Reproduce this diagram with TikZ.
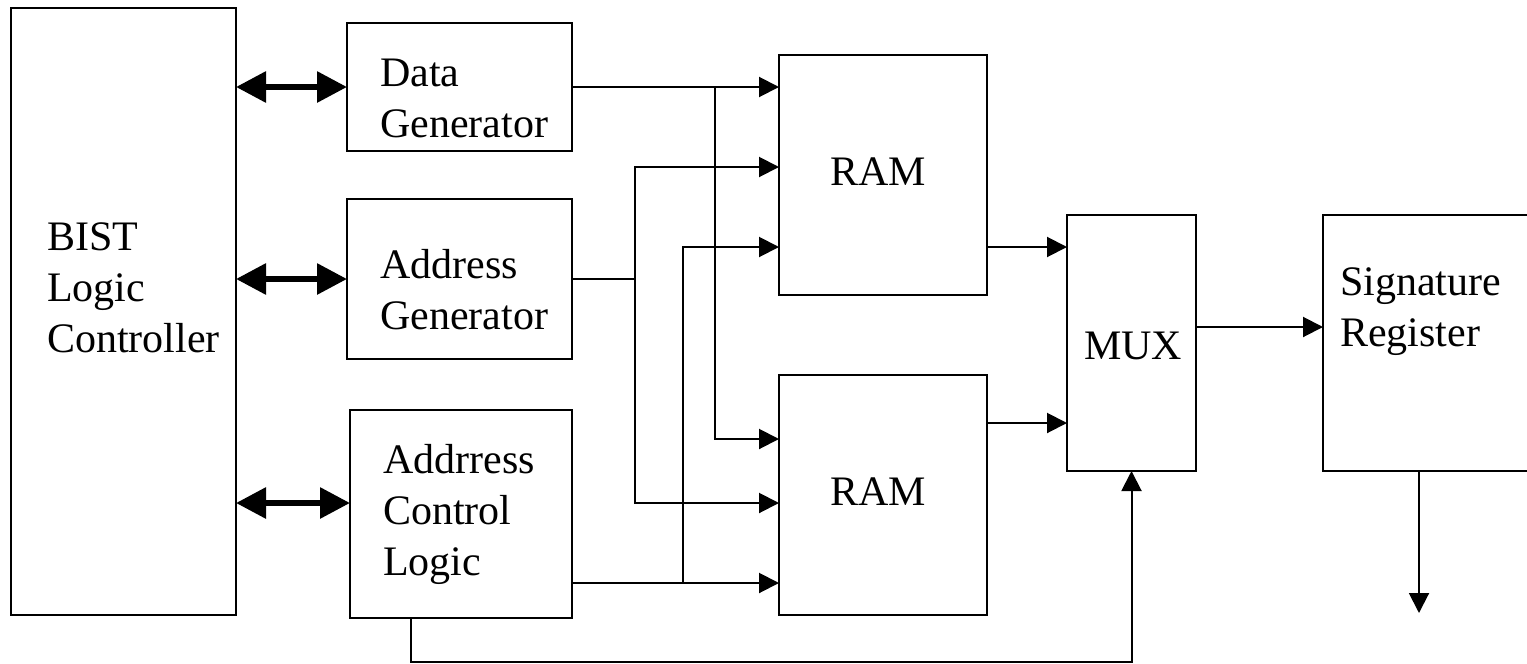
\documentclass[tikz,border=0pt]{standalone}
\usepackage{fontspec}
\setmainfont{Liberation Serif}
\usetikzlibrary{arrows.meta}
\newcommand{\mlines}[1]{\begin{tabular}[t]{@{}l@{}}#1\end{tabular}}
\begin{document}
\begin{tikzpicture}[x=1pt,y=-1pt,
  blk/.style={draw, line width=2pt, outer sep=0pt, inner sep=0pt},
  lbl/.style={font=\fontsize{42}{51}\selectfont, inner sep=0pt, anchor=base west},
  clbl/.style={font=\fontsize{42}{51}\selectfont, inner sep=0pt, anchor=base},
  wire/.style={line width=2pt},
  arr/.style={wire, -{Triangle[length=20pt,width=20pt]}},
  bus/.style={line width=6pt, {Triangle[length=30pt,width=30pt]}-{Triangle[length=30pt,width=30pt]}}]
\useasboundingbox (0,0) rectangle (1527,664);

% blocks
\node[blk, minimum width=225pt, minimum height=607pt] (bist) at (123.5,311.5) {};
\node[blk, minimum width=225pt, minimum height=128pt] (dg) at (459.5,87) {};
\node[blk, minimum width=225pt, minimum height=160pt] (ag) at (459.5,279) {};
\node[blk, minimum width=222pt, minimum height=208pt] (acl) at (461,514) {};
\node[blk, minimum width=208pt, minimum height=240pt] (ram1) at (883,175) {};
\node[blk, minimum width=208pt, minimum height=240pt] (ram2) at (883,495) {};
\node[blk, minimum width=129pt, minimum height=256pt] (mux) at (1131.5,343) {};
\node[inner sep=0pt, outer sep=0pt, minimum width=208pt, minimum height=256pt] (sig) at (1427,343) {};
\draw[wire] (sig.north east) -- (sig.north west) -- (sig.south west) -- (sig.south east);

% labels
\node[lbl] (tbist) at (47,250) {\mlines{BIST\\Logic\\Controller}};
\node[lbl] (tdg) at (380,86) {\mlines{Data\\Generator}};
\node[lbl] (tag) at (380,278) {\mlines{Address\\Generator}};
\node[lbl] (tacl) at (383,473) {\mlines{Addrress\\Control\\Logic}};
\node[clbl] (tram1) at (878,185) {RAM};
\node[clbl] (tram2) at (878,505) {RAM};
\node[clbl] (tmux) at (1133,359) {MUX};
\node[lbl] (tsig) at (1340,295) {\mlines{Signature\\Register}};

% bidirectional buses
\coordinate (aclin) at ([yshift=11pt]acl.west);
\draw[bus] (bist.east |- dg.west) -- (dg.west);
\draw[bus] (bist.east |- ag.west) -- (ag.west);
\draw[bus] (bist.east |- aclin) -- (aclin);

% junction points
\coordinate (jd) at (715,87);
\coordinate (ja) at (635,279);
\coordinate (jc) at (683,583);

% data generator
\draw[arr] (dg.east) -- (ram1.west |- dg.east);
\draw[arr] (jd) |- ([yshift=56pt]ram2.west);
% address generator
\draw[wire] (ag.east) -- (ja);
\draw[arr] (ja) |- ([yshift=8pt]ram1.west);
\draw[arr] (ja) |- ([yshift=-8pt]ram2.west);
% address control logic
\draw[arr] ([yshift=-69pt]acl.east) -- ([yshift=-88pt]ram2.west);
\draw[arr] (jc) |- ([yshift=-72pt]ram1.west);
% RAM to MUX
\draw[arr] ([yshift=-72pt]ram1.east) -- ([yshift=96pt]mux.west);
\draw[arr] ([yshift=72pt]ram2.east) -- ([yshift=-80pt]mux.west);
% MUX to signature register
\draw[arr] ([yshift=16pt]mux.east) -- ([yshift=16pt]sig.west);
\draw[arr] ([xshift=-8pt]sig.south) -- ++(0,142);
% feedback
\draw[arr] ([xshift=-50pt]acl.south) -- ++(0,44) -| (mux.south);
\end{tikzpicture}
\end{document}
